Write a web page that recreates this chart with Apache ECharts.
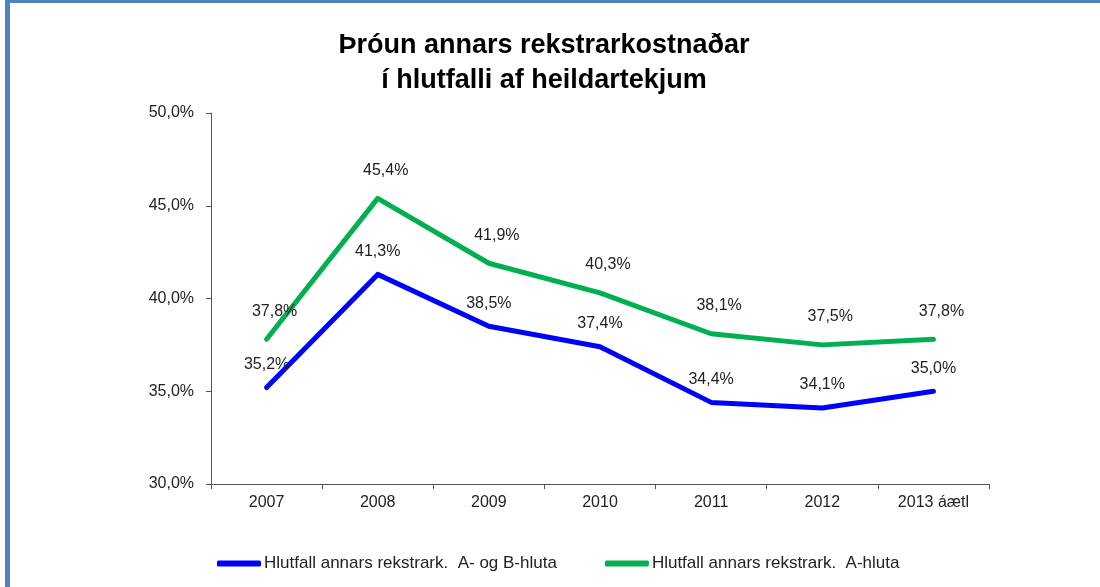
<!DOCTYPE html>
<html>
<head>
<meta charset="utf-8">
<script src="https://cdn.jsdelivr.net/npm/echarts@6/dist/echarts.min.js"></script>
<style>
html,body{margin:0;padding:0;background:#fff;}
#chart{width:1100px;height:587px;}
</style>
</head>
<body>
<div id="chart"></div>
<script>
const categories = ['2007', '2008', '2009', '2010', '2011', '2012', '2013 áætl'];
const seriesAB = [35.2, 41.3, 38.5, 37.4, 34.4, 34.1, 35.0];
const seriesA = [37.8, 45.4, 41.9, 40.3, 38.1, 37.5, 37.8];
const seriesNames = ['Hlutfall annars rekstrark.  A- og B-hluta', 'Hlutfall annars rekstrark.  A-hluta'];
const yTicks = { min: 30, max: 50, interval: 5 };

const fmt = v => v.toFixed(1).replace('.', ',') + '%';
const font = 'Liberation Sans, Arial, sans-serif';

const chart = echarts.init(document.getElementById('chart'), null, { renderer: 'canvas' });
chart.setOption({
  backgroundColor: '#fff',
  animation: false,
  title: {
    text: 'Þróun annars rekstrarkostnaðar\ní hlutfalli af heildartekjum',
    left: 539,
    textAlign: 'center',
    top: 23,
    textStyle: { fontFamily: font, fontSize: 27, fontWeight: 'bold', color: '#000', lineHeight: 35 }
  },
  graphic: [
    { type: 'rect', shape: { x: 5, y: 0, width: 5, height: 587 }, style: { fill: '#4F81BD' } },
    { type: 'rect', shape: { x: 5, y: 0, width: 1095, height: 3 }, style: { fill: '#4F81BD' } }
  ],
  legend: {
    left: 217,
    top: 555,
    padding: 0,
    itemWidth: 44,
    itemHeight: 6,
    itemGap: 48,
    icon: 'roundRect',
    textStyle: { fontFamily: font, fontSize: 17, color: '#222', padding: [0, 0, 0, -2] },
    data: seriesNames
  },
  grid: { left: 211, right: 111, top: 113, bottom: 103 },
  xAxis: {
    type: 'category',
    data: categories,
    boundaryGap: true,
    axisLine: { lineStyle: { color: '#555', width: 1 } },
    axisTick: { show: true, length: 5, lineStyle: { color: '#555' } },
    axisLabel: { fontFamily: font, fontSize: 16, color: '#222', margin: 11, interval: 0 }
  },
  yAxis: {
    type: 'value',
    min: yTicks.min, max: yTicks.max, interval: yTicks.interval,
    axisLine: { show: true, lineStyle: { color: '#555', width: 1 } },
    axisTick: { show: true, length: 5, lineStyle: { color: '#555' } },
    splitLine: { show: false },
    axisLabel: { fontFamily: font, fontSize: 16, color: '#222', margin: 17, formatter: v => fmt(v) }
  },
  series: [
    {
      name: seriesNames[0],
      type: 'line',
      data: seriesAB,
      symbol: 'circle',
      symbolSize: 0,
      showSymbol: true,
      lineStyle: { color: '#0000FF', width: 5, cap: 'round', join: 'round' },
      itemStyle: { color: '#0000FF' },
      label: { show: true, position: 'top', distance: 15, fontFamily: font, fontSize: 16, color: '#222', formatter: p => fmt(p.value) }
    },
    {
      name: seriesNames[1],
      type: 'line',
      data: seriesA,
      symbol: 'circle',
      symbolSize: 0,
      showSymbol: true,
      lineStyle: { color: '#00B050', width: 5, cap: 'round', join: 'round' },
      itemStyle: { color: '#00B050' },
      label: { show: true, position: 'top', distance: 20, offset: [8, 0], fontFamily: font, fontSize: 16, color: '#222', formatter: p => fmt(p.value) }
    }
  ]
});
</script>
</body>
</html>
